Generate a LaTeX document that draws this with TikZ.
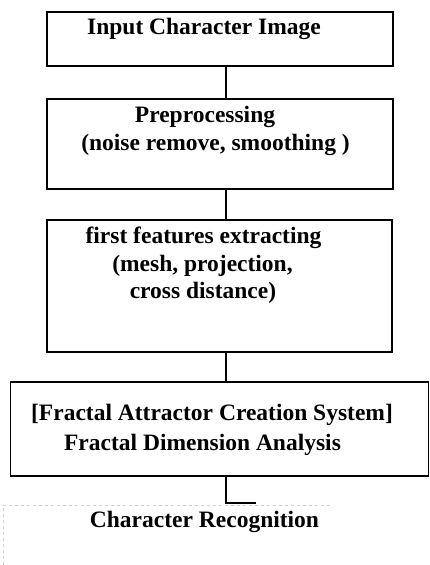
\documentclass[tikz,border=0pt]{standalone}
\usepackage{fontspec}
\setmainfont{Liberation Serif}
\begin{document}
\begin{tikzpicture}[x=1pt,y=-1pt,
  box/.style={draw=black,line width=1.3pt,inner sep=0pt},
  txt/.style={font=\fontsize{23.5}{28}\selectfont\bfseries,inner sep=0pt,anchor=base},
  conn/.style={draw=black,line width=1.2pt},
  faint/.style={draw=black!18,dashed,line width=0.6pt}]
\useasboundingbox (0,0) rectangle (430,565);
\fill[white] (0,0) rectangle (430,565);
% boxes
\node[box,minimum width=346pt,minimum height=54pt] (b1) at (220,39) {};
\node[box,minimum width=346pt,minimum height=90pt] (b2) at (220,144) {};
\node[box,minimum width=345pt,minimum height=132pt] (b3) at (219.5,286) {};
\node[box,line width=1.8pt,minimum width=418pt,minimum height=94pt] (b4) at (219.5,429) {};
% texts
\node[txt] (t1) at (204,34) {Input Character Image};
\node[txt] (t2a) at (205,122) {Preprocessing};
\node[txt] (t2b) at (215.5,150) {(noise remove, smoothing )};
\node[txt] (t3a) at (203.5,243) {first features extracting};
\node[txt] (t3b) at (202.5,271) {(mesh, projection,};
\node[txt] (t3c) at (203,298) {cross distance)};
\node[txt] (t4a) at (212,420) {[Fractal Attractor Creation System]};
\node[txt] (t4b) at (202.5,450) {Fractal Dimension Analysis};
\node[txt] (t5) at (204.5,527) {Character Recognition};
% connectors
\coordinate (c1) at (226,503);
\coordinate (c2) at (256,503);
\draw[conn] (b1.south -| c1) -- (b2.north -| c1);
\draw[conn] (b2.south -| c1) -- (b3.north -| c1);
\draw[conn] (b3.south -| c1) -- (b4.north -| c1);
\draw[conn] (b4.south -| c1) -- (c1) -- (c2);
% faint outline of the last box
\coordinate (f1) at (3,565);
\coordinate (f2) at (3,505);
\coordinate (f3) at (330,505);
\draw[faint] (f1) -- (f2) -- (f3);
\end{tikzpicture}
\end{document}
